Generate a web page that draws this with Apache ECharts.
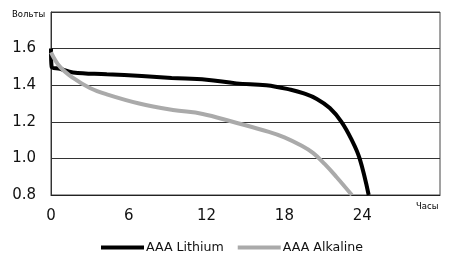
<!DOCTYPE html>
<html><head><meta charset="utf-8">
<script src="https://cdn.jsdelivr.net/npm/echarts@6/dist/echarts.min.js"></script>
<style>html,body{margin:0;padding:0;background:#fff}#c{width:450px;height:255px}</style>
</head><body><div id="c"></div>
<script>
const xTicks = [0, 6, 12, 18, 24];
const lithiumHours = [0, 0.05, 0.7, 1.7, 4.3, 7, 9.3, 12, 14.3, 16.6, 18.5, 19.5, 20.5, 21.5, 22.4, 23.2, 23.8, 24.5];
const lithiumVolts = [1.6, 1.5, 1.49, 1.47, 1.46, 1.45, 1.44, 1.43, 1.41, 1.40, 1.375, 1.355, 1.325, 1.275, 1.2, 1.10, 1.0, 0.8];
const alkalineHours = [0, 0.7, 1.7, 3, 4.3, 6.8, 9.4, 11.7, 14, 16.8, 18, 19.3, 20.2, 21.1, 22, 23.2];
const alkalineVolts = [1.58, 1.50, 1.44, 1.385, 1.35, 1.30, 1.265, 1.243, 1.2, 1.145, 1.115, 1.07, 1.03, 0.97, 0.9, 0.8];
const seriesNames = ['AAA Lithium', 'AAA Alkaline'];
const yTitle = 'Вольты';
const xTitle = 'Часы';

const pairs = (xs, ys) => xs.map((x, i) => [x, ys[i]]);
const chart = echarts.init(document.getElementById('c'), null, {renderer: 'canvas'});
const font = 'DejaVu Sans';
chart.setOption({
  animation: false,
  grid: {left: 51, right: 10, top: 12, bottom: 60, show: true, borderColor: '#444', borderWidth: 1},
  xAxis: {
    type: 'value', min: 0, max: 30, interval: 6,
    axisLine: {show: true, lineStyle: {color: '#222', width: 1}},
    axisTick: {show: false},
    splitLine: {show: false},
    axisLabel: {margin: 14, color: '#111', fontFamily: font, fontSize: 15,
      formatter: v => xTicks.includes(v) ? String(v) : ''}
  },
  yAxis: {
    type: 'value', min: 0.8, max: 1.8, interval: 0.2,
    axisLine: {show: true, lineStyle: {color: '#333', width: 1}},
    axisTick: {show: false},
    splitLine: {show: true, lineStyle: {color: '#333', width: 1}},
    axisLabel: {margin: 15, color: '#111', fontFamily: font, fontSize: 15,
      formatter: v => Math.abs(v - 1.8) < 1e-6 ? '' : v.toFixed(1)}
  },
  legend: {
    data: seriesNames, left: 96, top: 236, itemWidth: 43, itemHeight: 4, itemGap: 14,
    icon: 'rect',
    textStyle: {fontFamily: font, fontSize: 12.6, color: '#111', padding: [0, 0, 0, -3]}
  },
  graphic: [
    {type: 'text', left: 12, top: 10, style: {text: yTitle, font: '8.5px "DejaVu Sans"', fill: '#000'}},
    {type: 'text', left: 416, top: 202, style: {text: xTitle, font: '8.5px "DejaVu Sans"', fill: '#000'}}
  ],
  series: [
    {name: seriesNames[0], type: 'line', data: pairs(lithiumHours, lithiumVolts), smooth: 0.4,
      showSymbol: false, lineStyle: {color: '#000', width: 4}, itemStyle: {color: '#000'}, z: 2},
    {name: seriesNames[1], type: 'line', data: pairs(alkalineHours, alkalineVolts), smooth: 0.4,
      showSymbol: false, lineStyle: {color: '#aaaaaa', width: 4}, itemStyle: {color: '#aaaaaa'}, z: 3}
  ]
});
</script></body></html>
